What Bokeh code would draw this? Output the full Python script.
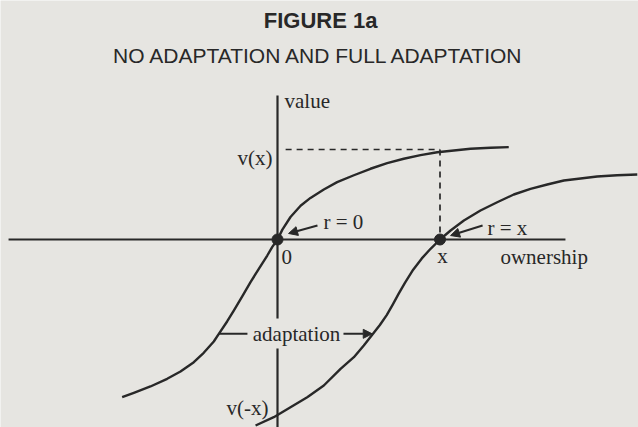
from bokeh.plotting import figure
from bokeh.models import Range1d, Arrow, NormalHead
from bokeh.core.properties import value
from bokeh.embed import file_html
from bokeh.resources import INLINE

# ---- data (ownership in units of x, value in units of v(x)) ----
no_adapt_own = [-0.956, -0.884, -0.782, -0.679, -0.597, -0.515, -0.454, -0.392, -0.361,
                -0.310, -0.269, -0.217, -0.166, -0.115, -0.063, -0.033, 0.0,
                0.030, 0.080, 0.142, 0.203, 0.285, 0.367, 0.470, 0.572, 0.675,
                0.777, 0.880, 0.983, 1.085, 1.188, 1.311, 1.423]
no_adapt_val = [-1.752, -1.703, -1.633, -1.548, -1.467, -1.363, -1.259, -1.133, -1.048,
                -0.911, -0.789, -0.633, -0.474, -0.326, -0.178, -0.085, 0.0,
                0.110, 0.250, 0.375, 0.462, 0.556, 0.637, 0.714, 0.786, 0.848,
                0.897, 0.937, 0.970, 0.989, 1.008, 1.019, 1.026]

full_adapt_own = [-0.135, -0.023, 0.080, 0.183, 0.285, 0.388, 0.470, 0.531, 0.583,
                  0.630, 0.672, 0.710, 0.745, 0.785, 0.835, 0.888, 0.942, 1.0,
                  1.065, 1.147, 1.249, 1.352, 1.454, 1.557, 1.660, 1.762, 1.865,
                  1.967, 2.090, 2.214]
full_adapt_val = [-2.067, -1.974, -1.863, -1.752, -1.622, -1.437, -1.308, -1.178, -1.059,
                  -0.950, -0.840, -0.720, -0.605, -0.480, -0.335, -0.210, -0.103, 0.0,
                  0.100, 0.211, 0.322, 0.414, 0.500, 0.563, 0.611, 0.656, 0.678,
                  0.700, 0.714, 0.722]

ref_points = [0.0, 1.0]          # reference points r = 0 and r = x
ref_tick_labels = ["0", "x"]
v_of_x = 1.0
v_of_minus_x = -1.867

INK = "#282828"
BG = "#e6e5e1"
SERIF = value("Liberation Serif")
SANS = value("Liberation Sans")

p = figure(width=638, height=427, output_backend="svg", toolbar_location=None,
           x_range=Range1d(-1.7046, 2.2215), y_range=Range1d(-2.0889, 2.6556),
           min_border=0, background_fill_color=BG, border_fill_color=BG,
           outline_line_color=None)
p.axis.visible = False
p.grid.visible = False

# axes drawn as lines (vertical axis interrupted behind the "adaptation" label)
p.segment(x0=[-1.655], y0=[0], x1=[1.772], y1=[0], line_color=INK, line_width=2.2)
p.segment(x0=[0, 0], y0=[1.6, -1.211], x1=[0, 0], y1=[-0.878, -2.2], line_color=INK, line_width=2.2)

# dashed guides to v(x)
p.segment(x0=[0.05, ref_points[1]], y0=[v_of_x, v_of_x], x1=[ref_points[1], ref_points[1]],
          y1=[v_of_x, 0], line_color=INK, line_width=1.7, line_dash="6 5")

# value curves
p.line(no_adapt_own, no_adapt_val, line_color=INK, line_width=2.4, line_join="round")
p.line(full_adapt_own, full_adapt_val, line_color=INK, line_width=2.4, line_join="round")

# reference point dots
p.scatter(ref_points, [0, 0], size=11, fill_color=INK, line_color=INK)

# arrows
head = dict(size=9, fill_color=INK, line_color=INK)
p.add_layout(Arrow(end=NormalHead(**head), x_start=0.246, y_start=0.156, x_end=0.068, y_end=0.067,
                   line_color=INK, line_width=2))
p.add_layout(Arrow(end=NormalHead(**head), x_start=1.262, y_start=0.156, x_end=1.065, y_end=0.044,
                   line_color=INK, line_width=2))
lvl = no_adapt_val[8]
p.segment(x0=[no_adapt_own[8]], y0=[lvl], x1=[-0.185], y1=[lvl], line_color=INK, line_width=2)
p.add_layout(Arrow(end=NormalHead(**head), x_start=0.406, y_start=lvl,
                   x_end=full_adapt_own[8], y_end=lvl, line_color=INK, line_width=2))

# titles
p.text(x=[0.265], y=[2.433], text=["FIGURE 1a"], text_font=SANS, text_font_style="bold",
       text_font_size="22px", text_align="center", text_baseline="middle", text_color=INK)
p.text(x=[0.258], y=[2.044], text=["NO ADAPTATION AND FULL ADAPTATION"], text_font=SANS,
       text_font_size="21px", text_align="center", text_baseline="middle", text_color=INK)

# serif labels
def lab(x, y, t, align="left"):
    p.text(x=[x], y=[y], text=[t], text_font=SERIF, text_font_size="21px",
           text_align=align, text_baseline="middle", text_color=INK)

lab(0.043, 1.544, "value")
lab(-0.031, v_of_x - 0.089, "v(x)", "right")
lab(0.283, 0.189, "r = 0")
lab(1.292, 0.133, "r = x")
lab(ref_points[0] + 0.025, -0.189, ref_tick_labels[0])
lab(ref_points[1] + 0.015, -0.178, ref_tick_labels[1], "center")
lab(1.372, -0.189, "ownership")
lab(0.117, lvl, "adaptation", "center")
lab(-0.055, v_of_minus_x, "v(-x)", "right")

open("out.html", "w").write(file_html(p, INLINE))
